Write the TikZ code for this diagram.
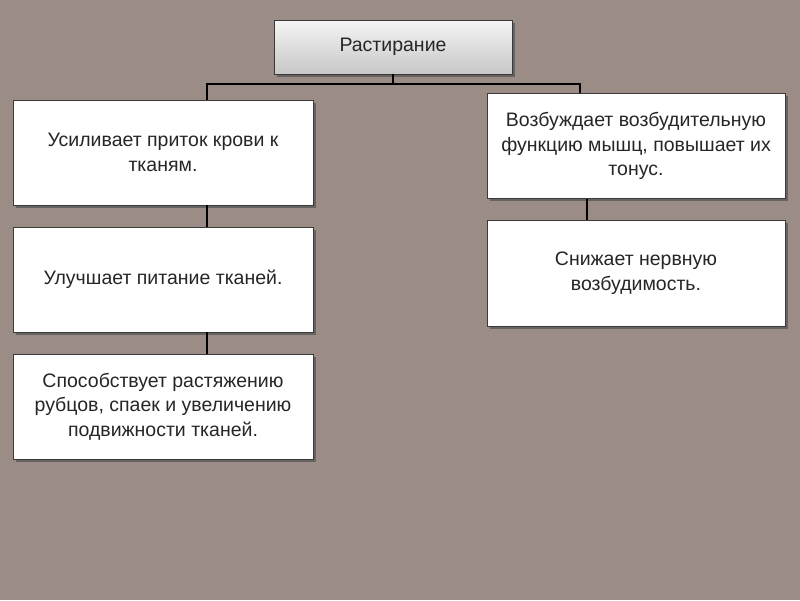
\documentclass[tikz,border=0pt]{standalone}
\usepackage{fontspec}
\setmainfont{Liberation Sans}
\usetikzlibrary{shadows}
\definecolor{bg}{HTML}{9B8D85}
\definecolor{edge}{HTML}{3A3A3A}
\begin{document}
\begin{tikzpicture}[x=1pt,y=-1pt,
  shade/.style={drop shadow={shadow xshift=2.5pt,shadow yshift=-2.5pt,fill=black!65,opacity=0.8}},
  box/.style={draw=edge, line width=0.8pt, fill=white, minimum width=300pt, minimum height=105pt,
    inner sep=0pt, align=center, font=\fontsize{19.5}{24.5}\selectfont, text=black!85, shade},
  topbox/.style={draw=edge, line width=0.8pt, top color=white!96!black, bottom color=black!22,
    minimum width=238pt, minimum height=54pt, inner sep=0pt, font=\fontsize{19.5}{24.5}\selectfont,
    text=black!85, shade},
  conn/.style={line width=2pt, black}]
\fill[bg] (0,0) rectangle (800,600);
\coordinate (lx) at (207,0);
\coordinate (rx) at (580,0);
\coordinate (rx2) at (587,0);
\coordinate (bar) at (393,84);
\node[topbox] (top) at (393,47) {Растирание};
\node[box] (L1) at (163,152.5) {Усиливает приток крови к\\тканям.};
\node[box] (L2) at (163,279.5) {Улучшает питание тканей.};
\node[box] (L3) at (163,406.5) {Способствует растяжению\\рубцов, спаек и увеличению\\подвижности тканей.};
\node[box, minimum width=298pt] (R1) at (636,146) {Возбуждает возбудительную\\функцию мышц, повышает их\\тонус.};
\node[box, minimum width=298pt, minimum height=106pt] (R2) at (636,273) {Снижает нервную\\возбудимость.};
\draw[conn] (top.south) -- (bar);
\draw[conn] (L1.north -| lx) -- (lx |- bar) -- (rx |- bar) -- (R1.north -| rx);
\draw[conn] (L1.south -| lx) -- (L2.north -| lx);
\draw[conn] (L2.south -| lx) -- (L3.north -| lx);
\draw[conn] (R1.south -| rx2) -- (R2.north -| rx2);
\end{tikzpicture}
\end{document}
